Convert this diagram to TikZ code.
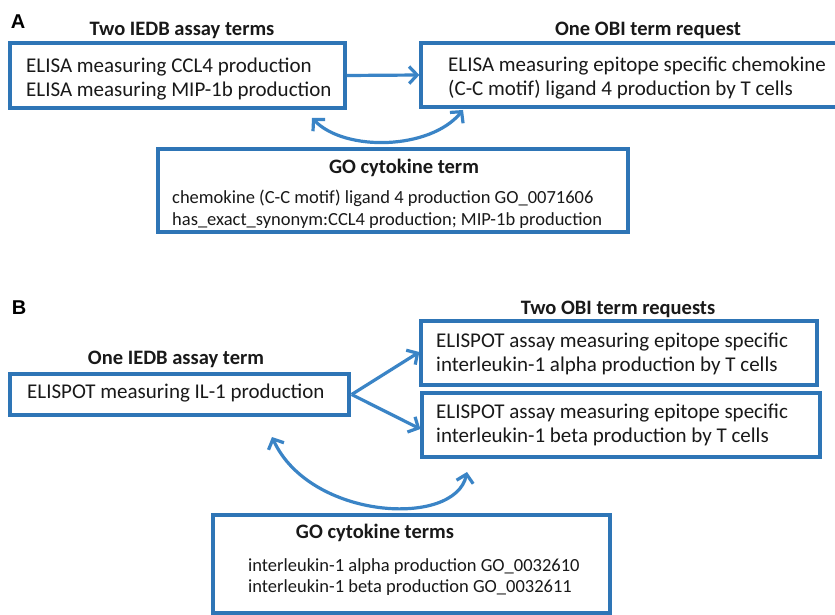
\documentclass[tikz,border=0pt]{standalone}
\usepackage{fontspec}
\setmainfont{Carlito}
\newfontfamily\arialf{Liberation Sans}
\usetikzlibrary{arrows.meta}
\definecolor{boxblue}{RGB}{46,117,182}
\definecolor{arrblue}{RGB}{58,132,198}
\definecolor{txt}{RGB}{25,25,25}
\begin{document}
\begin{tikzpicture}[x=1pt,y=-1pt,
  box/.style={draw=boxblue,line width=3.3pt,inner sep=0pt,fill=white},
  btext/.style={anchor=west,align=left,inner sep=0pt,text=txt,font=\fontsize{21}{24}\selectfont},
  gtext/.style={anchor=west,align=left,inner sep=0pt,text=txt,font=\fontsize{18.5}{21.5}\selectfont},
  ttl/.style={inner sep=0pt,text=txt,font=\bfseries\fontsize{20.5}{24}\selectfont},
  panel/.style={inner sep=0pt,text=black,font=\arialf\bfseries\fontsize{20}{22}\selectfont},
  conn/.style={draw=arrblue,line width=3.2pt,arrows={-Straight Barb[length=8pt,width=17pt]}},
  conn2/.style={draw=arrblue,line width=3.2pt,arrows={Straight Barb[length=8pt,width=17pt]-Straight Barb[length=8pt,width=17pt]}}]
\useasboundingbox (0,0) rectangle (835,615);
\fill[white] (0,0) rectangle (835,615);
% ---------------- Panel A
\node[panel] (pa) at (18,22) {A};
\node[ttl] (ta1) at (182,30) {Two IEDB assay terms};
\node[ttl] (ta2) at (648,30) {One OBI term request};
\node[box,minimum width=335pt,minimum height=65pt] (a1) at (177.5,75.5) {};
\node[box,minimum width=420pt,minimum height=64pt] (a2) at (631,75) {};
\node[box,minimum width=470pt,minimum height=83pt] (ga) at (393,190.5) {};
\node[btext] (a1t) at (26,79) {ELISA measuring CCL4 production\\ELISA measuring MIP-1b production};
\node[btext] (a2t) at (448,78) {ELISA measuring epitope specific chemokine\\(C-C motif) ligand 4 production by T cells};
\node[ttl] (gat) at (404,168) {GO cytokine term};
\node[gtext] (gal) at (172,209) {chemokine (C-C motif) ligand 4 production GO\_0071606\\has\_exact\_synonym:CCL4 production; MIP-1b production};
\draw[conn] (a1.east) -- (a2.west);
\coordinate (ca1) at (312,118);
\coordinate (ca2) at (463,110);
\draw[conn2] (ca1) .. controls (345,152) and (430,150) .. (ca2);
% ---------------- Panel B
\node[panel] (pb) at (19,308) {B};
\node[ttl] (tb2) at (618,309) {Two OBI term requests};
\node[ttl] (tb1) at (176,359) {One IEDB assay term};
\node[box,minimum width=339pt,minimum height=41pt] (b0) at (179.5,394.5) {};
\node[box,minimum width=396pt,minimum height=64pt] (b1) at (619,353) {};
\node[box,minimum width=398pt,minimum height=64pt] (b2) at (621,425) {};
\node[box,minimum width=397pt,minimum height=98pt] (gb) at (411.5,564) {};
\node[btext] (b0t) at (27,393) {ELISPOT measuring IL-1 production};
\node[btext] (b1t) at (436,354) {ELISPOT assay measuring epitope specific\\interleukin-1 alpha production by T cells};
\node[btext] (b2t) at (436,425) {ELISPOT assay measuring epitope specific\\interleukin-1 beta production by T cells};
\node[ttl] (gbt) at (375,533) {GO cytokine terms};
\node[gtext] (gbl) at (248,577) {interleukin-1 alpha production GO\_0032610\\interleukin-1 beta production GO\_0032611};
\coordinate (bs) at ([xshift=1pt]b0.east);
\draw[conn] (bs) -- ([yshift=1pt]b1.west);
\draw[conn] (bs) -- ([yshift=-4pt]b2.west);
\coordinate (cb1) at (272,437);
\coordinate (cb2) at (467,472);
\draw[conn2] (cb1) .. controls (310,520) and (455,528) .. (cb2);
\end{tikzpicture}
\end{document}
